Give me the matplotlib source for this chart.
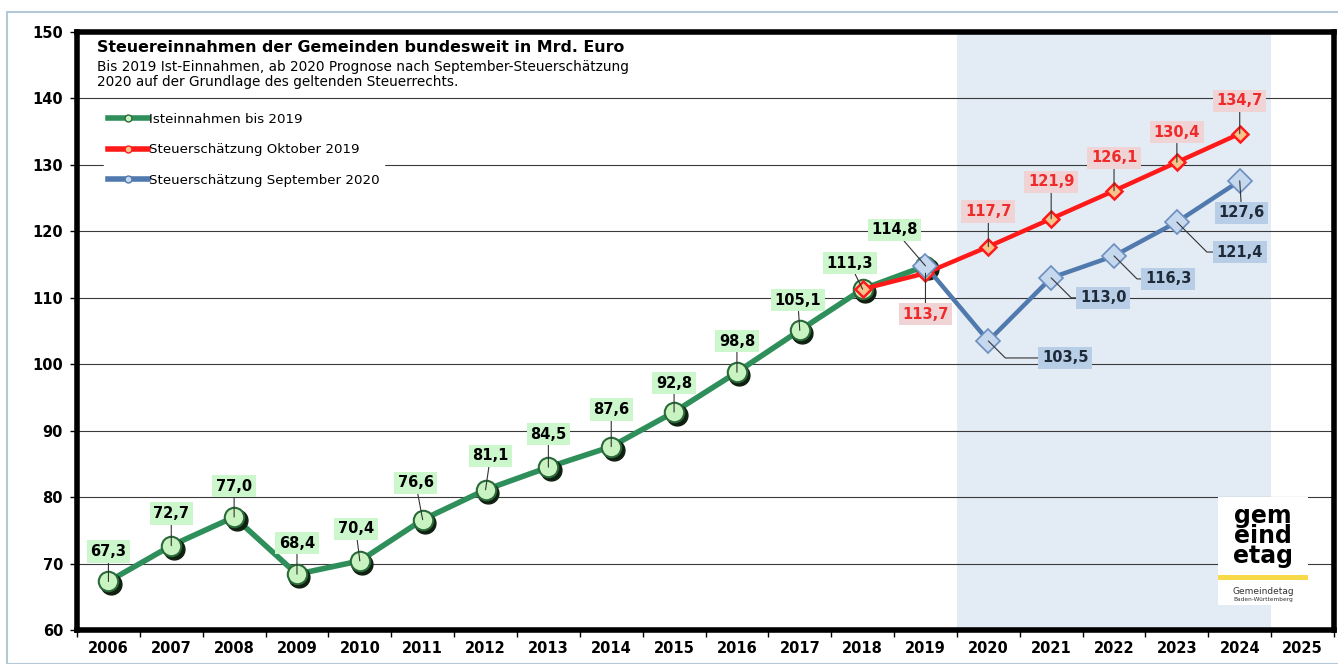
import matplotlib
matplotlib.use("Agg")
import matplotlib.pyplot as plt
from matplotlib.lines import Line2D
from matplotlib.patches import Rectangle
import matplotlib.transforms as mtransforms

plt.rcParams['font.family'] = ['DejaVu Sans']

years = [str(y) for y in range(2006, 2026)]
ist_years = list(range(2006, 2020))
ist_values = [67.3, 72.7, 77.0, 68.4, 70.4, 76.6, 81.1, 84.5, 87.6, 92.8, 98.8, 105.1, 111.3, 114.8]
okt_years = list(range(2018, 2025))
okt_values = [111.3, 113.7, 117.7, 121.9, 126.1, 130.4, 134.7]
sep_years = list(range(2019, 2025))
sep_values = [114.8, 103.5, 113.0, 116.3, 121.4, 127.6]

title = "Steuereinnahmen der Gemeinden bundesweit in Mrd. Euro"
subtitle = "Bis 2019 Ist-Einnahmen, ab 2020 Prognose nach September-Steuerschätzung\n2020 auf der Grundlage des geltenden Steuerrechts."
legend_labels = ["Isteinnahmen bis 2019", "Steuerschätzung Oktober 2019", "Steuerschätzung September 2020"]

def fmt(v):
    return f"{v:.1f}".replace(".", ",")

def idx(y):
    return y - 2006

W, H = 1338, 664
AX_L, AX_R, AX_T, AX_B = 77, 1334, 32, 630
AW, AH = AX_R - AX_L, AX_B - AX_T
fig = plt.figure(figsize=(W / 100, H / 100), dpi=100)
fig.patches.append(Rectangle((7 / W, 0), 1, 1 - 12 / H, transform=fig.transFigure,
                             fill=False, edgecolor='#b4c8d8', lw=1.5))
ax = fig.add_axes([AX_L / W, 1 - AX_B / H, AW / W, AH / H])

def axfrac(px, py):
    return (px - AX_L) / AW, (AX_B - py) / AH

NUM = 10.5
ax.set_xlim(-0.5, 19.5)
ax.set_ylim(60, 150)
ax.set_yticks(range(60, 151, 10))
ax.set_xticks(range(len(years)))
ax.set_xticklabels(years)
ax.set_xticks([i + 0.5 for i in range(-1, 20)], minor=True)
ax.tick_params(axis='x', which='major', length=0, pad=8)
ax.tick_params(axis='x', which='minor', length=5, width=1, direction='out')
ax.tick_params(axis='y', length=5, width=1, pad=5)
for lab in ax.get_xticklabels() + ax.get_yticklabels():
    lab.set_fontweight('bold')
    lab.set_fontsize(NUM)
ax.grid(axis='y', color='#3a3a3a', lw=0.8, zorder=0)
for s in ax.spines.values():
    s.set_linewidth(4)
    s.set_color('black')

ax.axvspan(idx(2020) - 0.5, idx(2024) + 0.5, color='#e3ebf5', zorder=0.5, lw=0)

green_line = '#2f8f5b'
red_line = '#ff1a1a'
blue_line = '#5079ad'

gx = [idx(y) for y in ist_years]
rx = [idx(y) for y in okt_years]
bx = [idx(y) for y in sep_years]

ax.plot(gx, ist_values, color=green_line, lw=4, zorder=3, solid_capstyle='round')
shadow = mtransforms.offset_copy(ax.transData, fig=fig, x=2.5, y=-3, units='dots')
ax.plot(gx, ist_values, 'o', ms=15, color='#102010', transform=shadow, zorder=3.5)
ax.plot(gx, ist_values, 'o', ms=14, mfc='#c9f3c0', mec='#2a6a3a', mew=1.5, zorder=4)

ax.plot(rx, okt_values, color=red_line, lw=3.2, zorder=5)
ax.plot(rx, okt_values, 'D', ms=8, mfc='#f6c48a', mec=red_line, mew=1.8, zorder=6)

ax.plot(bx, sep_values, color=blue_line, lw=3.2, zorder=5)
ax.plot(bx, sep_values, 'D', ms=12, mfc='#c6d8ee', mec='#6b8fbf', mew=1.2, zorder=6)

green_off = [(0, 30), (0, 32), (0, 31), (0, 31), (-4, 32), (-7, 37), (5, 34), (0, 33),
             (0, 37), (0, 29), (0, 31), (-2, 30), (-13, 26), (-31, 36)]
red_off = [None, (0, -41), (0, 35), (0, 37), (0, 33), (0, 30), (0, 33)]
blue_off = [None, (77, -17), (52, -20), (54, -23), (63, -30), (2, -32)]

for x, v, o in zip(gx, ist_values, green_off):
    ax.annotate(fmt(v), xy=(x, v), xytext=o, textcoords='offset pixels',
                ha='center', va='center', fontsize=NUM, fontweight='bold', color='black',
                bbox=dict(boxstyle='square,pad=0.25', fc='#ccf7cc', ec='none'),
                arrowprops=dict(arrowstyle='-', color='#333333', lw=0.8, shrinkA=0, shrinkB=0),
                zorder=7)
for x, v, o in zip(rx, okt_values, red_off):
    if o is None:
        continue
    ax.annotate(fmt(v), xy=(x, v), xytext=o, textcoords='offset pixels',
                ha='center', va='center', fontsize=NUM, fontweight='bold', color='#ee2a2a',
                bbox=dict(boxstyle='square,pad=0.25', fc='#efd3d5', ec='none'),
                arrowprops=dict(arrowstyle='-', color='#333333', lw=0.8, shrinkA=0, shrinkB=0),
                zorder=7)
for x, v, o in zip(bx, sep_values, blue_off):
    if o is None:
        continue
    cs = 'arc3' if o[0] < 10 else 'angle,angleA=0,angleB=-45,rad=0'
    ax.annotate(fmt(v), xy=(x, v), xytext=o, textcoords='offset pixels',
                ha='center', va='center', fontsize=NUM, fontweight='bold', color='#1e2a38',
                bbox=dict(boxstyle='square,pad=0.25', fc='#b8cde6', ec='none'),
                arrowprops=dict(arrowstyle='-', color='#333333', lw=0.8, shrinkA=0, shrinkB=0,
                                connectionstyle=cs),
                zorder=7)

# Title block
ax.text(*axfrac(97, 48), title, transform=ax.transAxes, ha='left', va='center',
        fontsize=11.4, fontweight='bold', zorder=8)
ax.text(*axfrac(97, 60), subtitle, transform=ax.transAxes, ha='left', va='top',
        fontsize=9.8, linespacing=1.1, zorder=8)

handles = [
    Line2D([], [], color=green_line, lw=4, marker='o', ms=5, mfc='#c9f3c0', mec='#2a6a3a'),
    Line2D([], [], color=red_line, lw=4, marker='o', ms=5, mfc='#f6c48a', mec=red_line),
    Line2D([], [], color=blue_line, lw=4, marker='o', ms=5, mfc='#c6d8ee', mec=blue_line),
]
leg = ax.legend(handles, legend_labels, loc='upper left', bbox_to_anchor=axfrac(104, 109),
                frameon=True, fancybox=False, framealpha=1, edgecolor='white', facecolor='white',
                fontsize=9.6, handlelength=3.0, handletextpad=0.1, labelspacing=1.3,
                borderpad=0.3, borderaxespad=0)
leg.set_zorder(8)

# Logo (simplified)
lx0 = 1218
fig.patches.append(Rectangle((lx0 / W, 1 - 575 / H), 90 / W, 78 / H, transform=fig.transFigure,
                             fc='white', ec='none', zorder=9))
fig.text((lx0 + 45) / W, 1 - 536 / H, "gem\neind\netag", ha='center', va='center',
         fontsize=17, fontweight='bold', color='black', linespacing=0.78, zorder=10)
fig.patches.append(Rectangle((lx0 / W, 1 - 580 / H), 90 / W, 5 / H, transform=fig.transFigure,
                             fc='#f7d94a', ec='none', zorder=9))
fig.patches.append(Rectangle((lx0 / W, 1 - 605 / H), 90 / W, 25 / H, transform=fig.transFigure,
                             fc='white', ec='none', zorder=9))
fig.text((lx0 + 45) / W, 1 - 591 / H, "Gemeindetag", ha='center', va='center',
         fontsize=6.5, color='#333333', zorder=10)
fig.text((lx0 + 45) / W, 1 - 600 / H, "Baden-Württemberg", ha='center', va='center',
         fontsize=4.2, color='#333333', zorder=10)

fig.savefig("out.png", dpi=100)
